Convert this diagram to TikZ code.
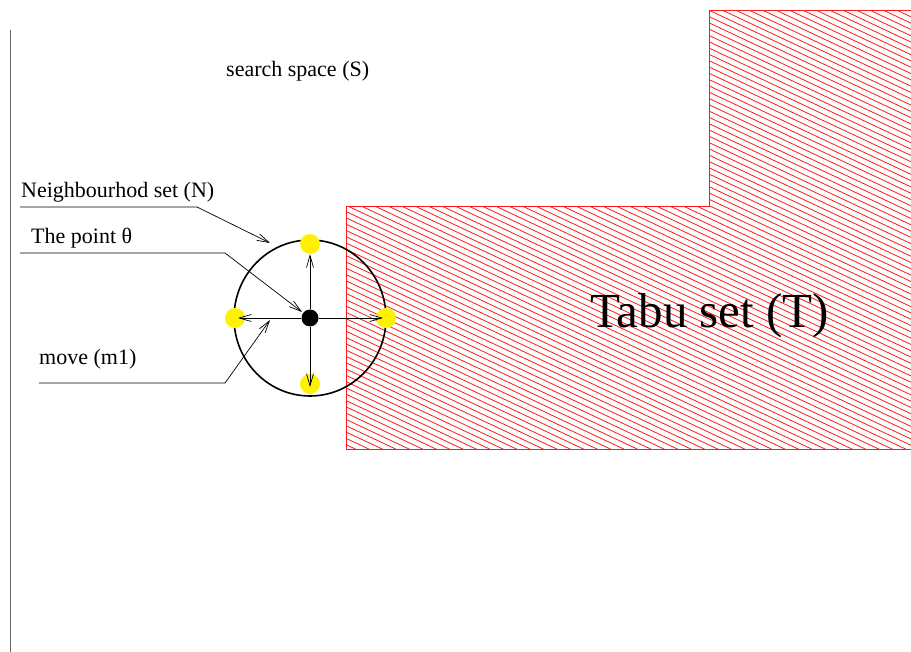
\documentclass[tikz,border=0pt]{standalone}
\usepackage{fontspec}
\setmainfont{Liberation Serif}
\usepackage{tikz}
\usetikzlibrary{arrows.meta, positioning}

\tikzset{
  label/.style={inner sep=0pt, anchor=base west, font=\fontsize{22}{24}\selectfont},
  dot/.style={circle, fill=yellow, minimum size=20pt, inner sep=0pt},
  mv/.style={line width=0.7pt, -{Straight Barb[length=12pt, width=7pt]}},
  leader/.style={line width=0.7pt, -{Straight Barb[length=12pt, width=7pt]}}
}

\begin{document}
\begin{tikzpicture}[x=1pt, y=-1pt]
        \useasboundingbox (0,0) rectangle (911,652);
        % left border
        \draw[gray!80!black, line width=1.8pt] (10.5,30) -- (10.5,652);

        % Tabu set: hatched region
        \begin{scope}
            \clip (0,0) rectangle (911,652);
            \begin{scope}
                \clip (346,449) -- (346,207) -- (709,207) -- (709,11) -- (915,11) -- (915,449) -- cycle;
                \foreach \c in {-300,-293.7,...,460}
                    \draw[red!90, line width=0.8pt] (330,\c) -- (920,\c+277);
            \end{scope}
            \draw[red!90, line width=1pt] (346,449) -- (346,207) -- (709,207) -- (709,11) -- (915,11) -- (915,449) -- cycle;
        \end{scope}
        \node[inner sep=0pt, anchor=base west, font=\fontsize{49}{52}\selectfont] (tabu) at (590,328) {Tabu set (T)};

        \node[label] (space) at (226,77) {search space (S)};

        % Neighbourhood
        \draw[line width=1.6pt] (310,318) ellipse (76 and 78);
        \node[dot] (pN) at (310,244) {};
        \node[dot] (pS) at (310,384) {};
        \node[dot] (pW) at (235,318) {};
        \node[dot] (pE) at (386,318) {};
        \node[circle, fill=black, minimum size=17pt, inner sep=0pt] (theta) at (310,318) {};

        % moves
        \draw[mv] (theta) -- (pN.south);
        \draw[mv] (theta) -- ([yshift=-3]pS.center);
        \draw[mv] (theta) -- ([xshift=3]pW.center);
        \draw[mv] (theta) -- ([xshift=-3]pE.center);

        % labels with leaders
        \node[label] (nbhd) at (21,198) {Neighbourhod set (N)};
        \node[label] (point) at (31,244) {The point θ};
        \node[label] (move) at (39,365) {move (m1)};

        \coordinate (nbA) at (20,207);
        \coordinate (nbB) at (197,207);
        \coordinate (nbC) at (270,243);
        \coordinate (ptA) at (20,253);
        \coordinate (ptB) at (225,253);
        \coordinate (ptC) at (302,312);
        \coordinate (mvA) at (39,383);
        \coordinate (mvB) at (225,383);
        \coordinate (mvC) at (270,320);

        \draw[leader] (nbA) -- (nbB) -- (nbC);
        \draw[leader] (ptA) -- (ptB) -- (ptC);
        \draw[leader] (mvA) -- (mvB) -- (mvC);
\end{tikzpicture}
\end{document}
